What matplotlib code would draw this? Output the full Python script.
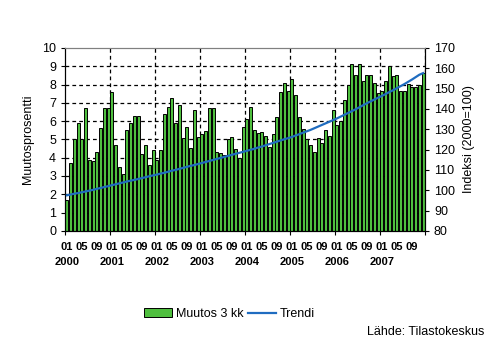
import matplotlib
matplotlib.use("Agg")
import matplotlib.pyplot as plt
import numpy as np

plt.rcParams['font.family'] = ['Liberation Sans', 'DejaVu Sans']

years = ['2000', '2001', '2002', '2003', '2004', '2005', '2006', '2007']
month_labels = ['01', '05', '09']

# 3 month change, %
muutos = [
    1.7, 3.7, 5.0, 5.9, 5.0, 6.7, 3.9, 3.8, 4.3, 5.6, 6.7, 6.7,
    7.6, 4.7, 3.5, 3.1, 5.5, 5.9, 6.3, 6.3, 4.2, 4.7, 3.6, 4.4,
    3.9, 4.4, 6.4, 6.75, 7.25, 5.9, 6.9, 5.1, 5.7, 4.55, 6.6, 5.15,
    5.3, 5.45, 6.7, 6.7, 4.3, 4.25, 4.15, 5.0, 5.15, 4.45, 4.0, 5.7,
    6.1, 6.75, 5.5, 5.35, 5.4, 5.2, 4.6, 5.3, 6.25, 7.6, 8.1, 7.65,
    8.3, 7.4, 6.25, 5.55, 5.0, 4.7, 4.3, 5.05, 4.8, 5.5, 5.2, 6.6,
    5.8, 6.0, 7.15, 8.0, 9.1, 8.5, 9.1, 8.2, 8.5, 8.5, 8.1, 7.55,
    7.65, 8.2, 9.0, 8.45, 8.5, 7.65, 7.65, 8.05, 7.85, 7.85, 7.95, 8.65,
]

# trend index (2000=100)
trendi = [
    97.5, 97.9, 98.3, 98.6, 99.0, 99.4, 99.8, 100.2, 100.7, 101.1, 101.6, 102.0,
    102.5, 102.9, 103.4, 103.8, 104.3, 104.7, 105.1, 105.5, 106.0, 106.4, 106.9, 107.3,
    107.7, 108.2, 108.6, 109.1, 109.6, 110.0, 110.5, 111.0, 111.5, 112.0, 112.4, 112.9,
    113.4, 113.9, 114.4, 114.9, 115.4, 115.9, 116.4, 116.9, 117.4, 117.9, 118.4, 118.9,
    119.4, 119.9, 120.4, 121.0, 121.5, 122.1, 122.7, 123.3, 123.9, 124.5, 125.1, 125.6,
    126.2, 126.9, 127.6, 128.3, 129.0, 129.7, 130.5, 131.3, 132.1, 132.9, 133.7, 134.5,
    135.3, 136.2, 137.1, 138.0, 138.9, 139.8, 140.8, 141.8, 142.8, 143.7, 144.6, 145.5,
    146.4, 147.3, 148.3, 149.2, 150.2, 151.2, 152.2, 153.3, 154.4, 155.6, 156.8, 157.6,
]

x = np.arange(len(muutos))

fig = plt.figure(figsize=(4.97, 3.40), dpi=100)
ax = fig.add_axes([0.131, 0.321, 0.724, 0.538])

ax.bar(x, muutos, width=0.8, color='#4fbf3f', edgecolor='black', linewidth=0.7,
       label='Muutos 3 kk', zorder=2)

ax.set_xlim(-0.5, len(x) - 0.5)
ax.set_ylim(0, 10)
ax.set_yticks(range(0, 11))
ax.tick_params(axis='y', labelsize=9, length=3, direction='out')

# year boundaries
bounds = np.arange(-0.5, len(x), 12)
ax.set_xticks(bounds)
ax.set_xticklabels([])
ax.tick_params(axis='x', length=3, direction='out')

mpos = [i * 12 + m for i in range(len(years)) for m in (0, 4, 8)]
mlab = [month_labels[k] for i in range(len(years)) for k in range(3)]
ax.set_xticks(mpos, minor=True)
ax.set_xticklabels(mlab, minor=True, fontsize=8, fontweight='bold')
ax.tick_params(axis='x', which='minor', length=0, pad=8)

for i, yr in enumerate(years):
    ax.text(i * 12, -0.17, yr, transform=ax.get_xaxis_transform(),
            ha='center', va='center', fontsize=8, fontweight='bold')

for v in range(1, 10):
    ax.axhline(v, color='black', linestyle=(0, (3, 2.5)), linewidth=0.9, zorder=1)
for b in bounds[1:]:
    ax.axvline(b, color='black', linestyle=(0, (3, 2.5)), linewidth=0.9, zorder=1)

ax.spines['top'].set_color('#808080')
ax.set_ylabel('Muutosprosentti', fontsize=9, labelpad=6)

ax2 = ax.twinx()
ax2.plot(x, trendi, color='#1f6cc0', linewidth=1.6, label='Trendi', zorder=3)
ax2.set_ylim(80, 170)
ax2.set_yticks(range(80, 171, 10))
ax2.tick_params(axis='y', labelsize=9, length=3, direction='out')
ax2.spines['top'].set_color('#808080')
ax2.set_ylabel('Indeksi (2000=100)', fontsize=9, labelpad=6)

h1, l1 = ax.get_legend_handles_labels()
h2, l2 = ax2.get_legend_handles_labels()
fig.legend(h1 + h2, l1 + l2, loc='center', bbox_to_anchor=(0.462, 0.076), ncol=2,
           frameon=False, fontsize=9, handlelength=2.2, columnspacing=0.4,
           handletextpad=0.3)

fig.text(0.974, 0.024, 'Lähde: Tilastokeskus', ha='right', va='center', fontsize=9)

fig.savefig('out.png', dpi=100)
